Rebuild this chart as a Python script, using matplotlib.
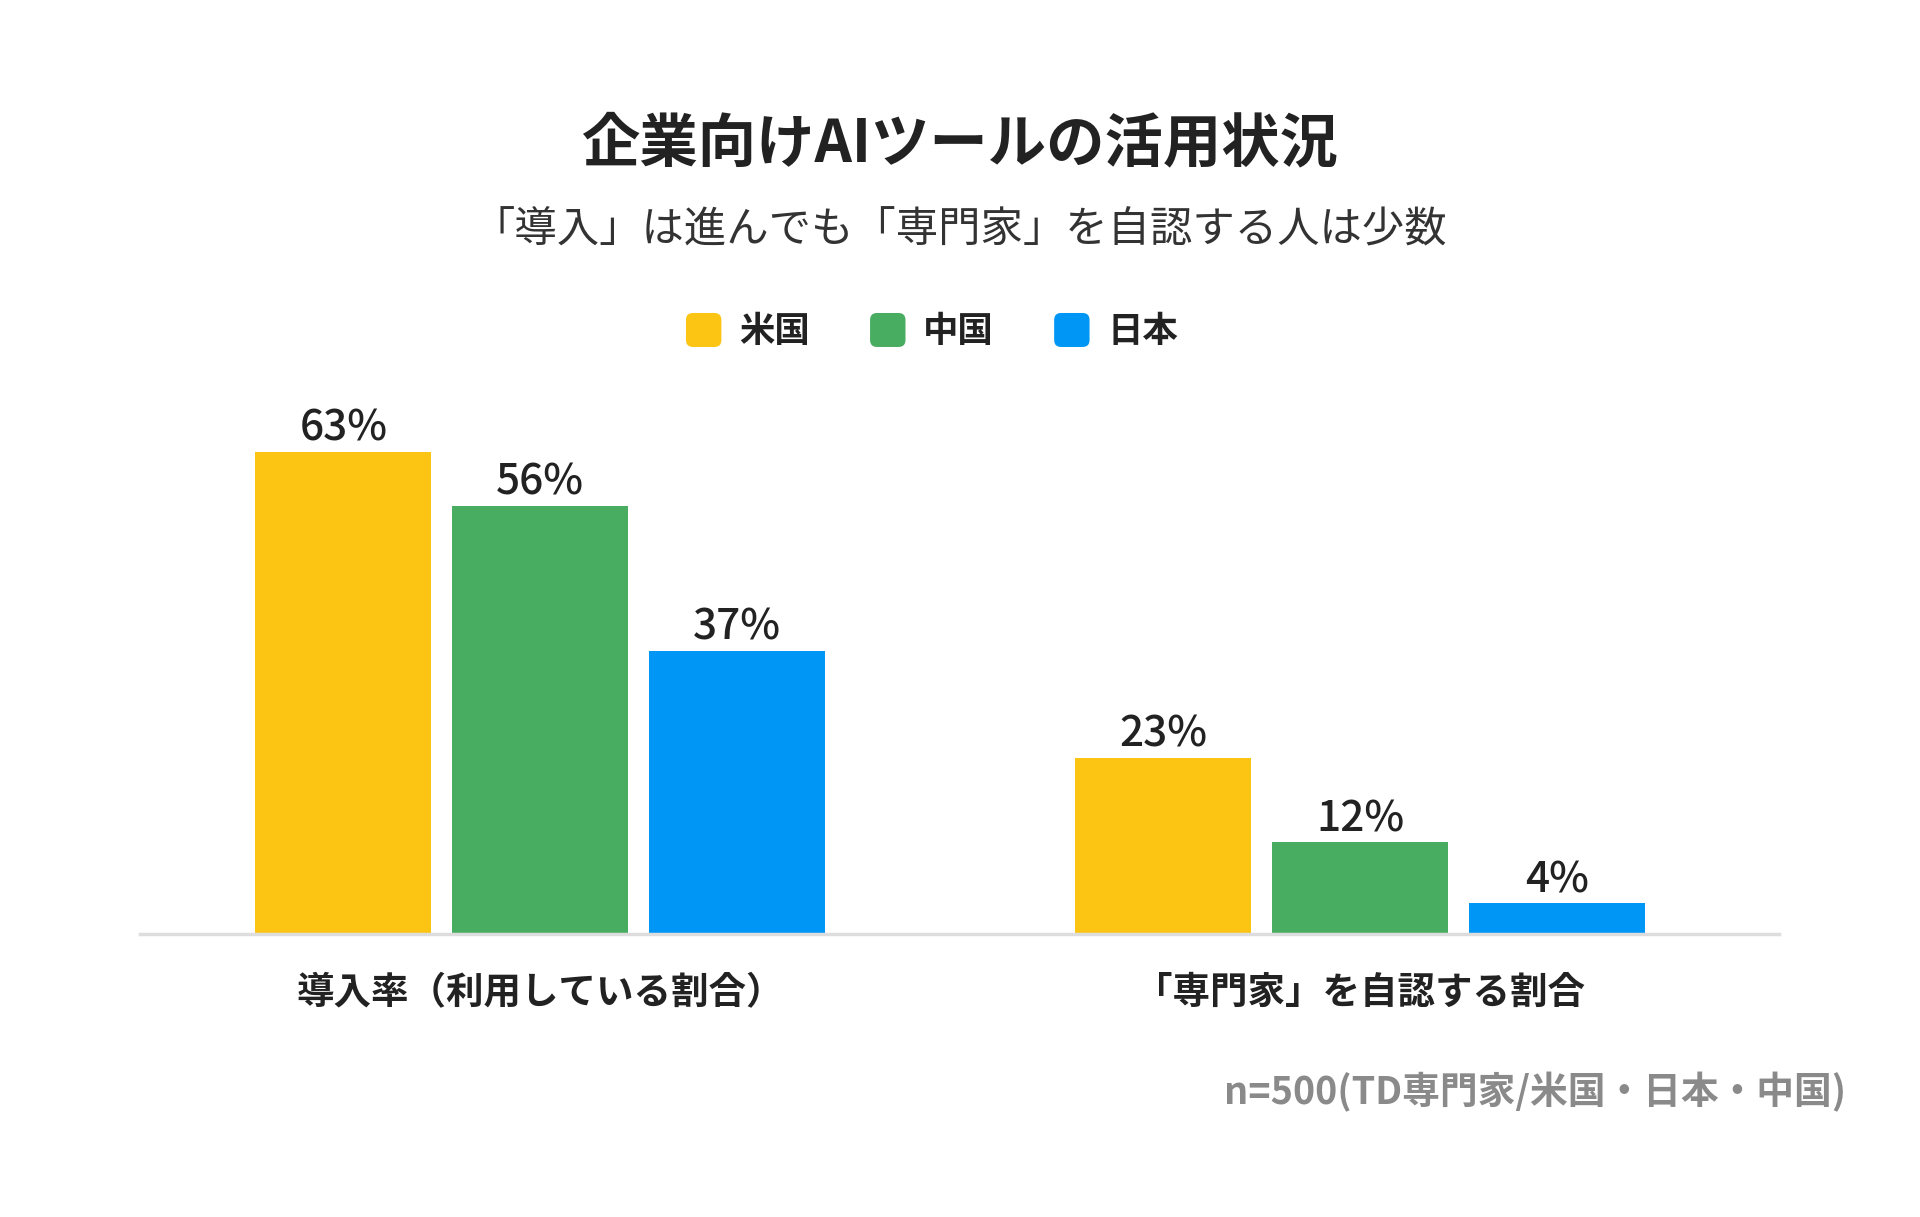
import matplotlib
matplotlib.use("Agg")
import matplotlib.pyplot as plt
import numpy as np
from matplotlib.patches import FancyBboxPatch
from matplotlib.legend_handler import HandlerPatch

plt.rcParams['font.family'] = ['Noto Sans CJK JP', 'DejaVu Sans']

# data
categories = ['導入率（利用している割合）', '「専門家」を自認する割合']
countries = ['米国', '中国', '日本']
usa = [63, 23]
china = [56, 12]
japan = [37, 4]
colors = ['#FDC513', '#48AC61', '#0096F5']

title = '企業向けAIツールの活用状況'
subtitle = '「導入」は進んでも「専門家」を自認する人は少数'
note = 'n=500(TD専門家/米国・日本・中国)'


class RoundSquare(HandlerPatch):
    def create_artists(self, legend, orig_handle, xdescent, ydescent,
                       width, height, fontsize, trans):
        p = FancyBboxPatch((-xdescent, -ydescent), width, height,
                           boxstyle='round,pad=0,rounding_size=5',
                           facecolor=orig_handle.get_facecolor(),
                           edgecolor='none', transform=trans)
        return [p]


W, H = 1920, 1217
fig = plt.figure(figsize=(W / 100, H / 100), dpi=100)
# axes: baseline at y=934px, left 140px, right 1779px
ax = fig.add_axes([140 / W, 1 - 934 / H, (1779 - 140) / W, (934 - 300) / H])

x = np.arange(len(categories))
width = 0.2146
step = 0.240
series = [usa, china, japan]
bars = []
for i, (vals, c, name) in enumerate(zip(series, colors, countries)):
    b = ax.bar(x + (i - 1) * step, vals, width, color=c, label=name, zorder=2)
    bars.append(b)
    for xi, v in zip(x + (i - 1) * step, vals):
        ax.annotate(f'{v}%', (xi, v), xytext=(0, 8), textcoords='offset points',
                    ha='center', va='baseline', fontsize=30.5, fontweight='medium',
                    color='#222222')

ax.set_xlim(-0.488, 1.511)
ax.set_ylim(0, 634 / 7.65)
ax.set_yticks([])
for s in ['top', 'right', 'left']:
    ax.spines[s].set_visible(False)
ax.spines['bottom'].set_color('#dddddd')
ax.spines['bottom'].set_linewidth(2.5)
ax.set_xticks(x)
ax.set_xticklabels(categories, fontsize=27, fontweight='bold', color='#222222')
ax.tick_params(axis='x', length=0, pad=28)

fig.text(0.5, 1 - 144 / H, title, ha='center', va='center', fontsize=42,
         fontweight='bold', color='#222222')
fig.text(0.5, 1 - 231 / H, subtitle, ha='center', va='center', fontsize=30.5,
         color='#333333')

leg = fig.legend(handles=[b[0] for b in bars], labels=countries,
                 loc='center', bbox_to_anchor=(932 / W, 1 - 331 / H), ncol=3,
                 frameon=False, prop={'size': 25.5, 'weight': 'bold'},
                 handlelength=1.0, handleheight=1.1, handletextpad=0.5,
                 columnspacing=1.7,
                 handler_map={matplotlib.patches.Rectangle: RoundSquare()})
for t in leg.get_texts():
    t.set_color('#222222')

fig.text(1846 / W, 1 - 1092 / H, note, ha='right', va='center', fontsize=27.2,
         fontweight='bold', color='#8a8a8a')

fig.savefig('out.png', dpi=100, facecolor='white')
